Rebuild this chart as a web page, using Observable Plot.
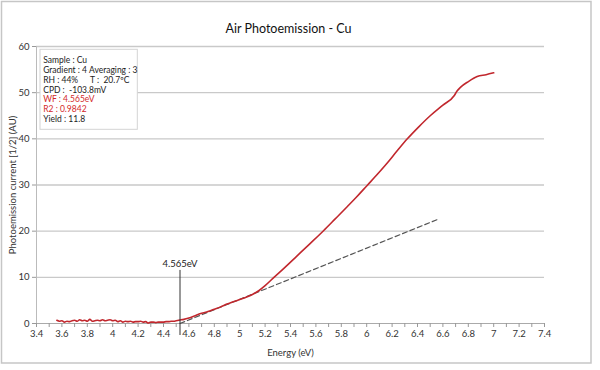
<!DOCTYPE html>
<html>
<head>
<meta charset="utf-8">
<script src="https://cdn.jsdelivr.net/npm/d3@7"></script>
<script src="https://cdn.jsdelivr.net/npm/@observablehq/plot@0.6"></script>
<style>
  html, body { margin: 0; padding: 0; background: #fff; }
  #chart { width: 600px; height: 370px; }
  #chart svg text { white-space: pre; }
</style>
</head>
<body>
<div id="chart"></div>
<script>
// ---- Data ----
const title = "Air Photoemission - Cu";
const xLabel = "Energy (eV)";
const yLabel = "Photoemission current [1/2] (AU)";

// Photoemission curve: energy (eV) and current
const energy = [
  3.56, 3.58, 3.60, 3.62, 3.64, 3.66, 3.68, 3.70, 3.72, 3.74,
  3.76, 3.78, 3.80, 3.82, 3.84, 3.86, 3.88, 3.90, 3.92, 3.94,
  3.96, 3.98, 4.00, 4.02, 4.04, 4.06, 4.08, 4.10, 4.12, 4.14,
  4.16, 4.18, 4.20, 4.22, 4.24, 4.26, 4.28, 4.30, 4.32, 4.34,
  4.36, 4.38, 4.40, 4.42, 4.44, 4.46, 4.48, 4.50, 4.52, 4.54,
  4.56, 4.60, 4.65, 4.70, 4.75, 4.80, 4.85, 4.90, 4.95, 5.00,
  5.05, 5.10, 5.15, 5.20, 5.27, 5.35, 5.45, 5.55, 5.66, 5.75,
  5.85, 5.92, 6.00, 6.10, 6.16, 6.24, 6.32, 6.41, 6.50, 6.60,
  6.69, 6.71, 6.74, 6.80, 6.87, 6.94, 7.00
];
const current = [
  0.7, 0.5, 0.6, 0.3, 0.5, 0.4, 0.6, 0.7, 0.5, 0.8,
  0.6, 0.7, 0.5, 0.9, 0.5, 0.6, 0.7, 0.6, 0.8, 0.6,
  0.7, 0.8, 0.6, 0.7, 0.4, 0.6, 0.3, 0.5, 0.4, 0.5,
  0.3, 0.4, 0.4, 0.5, 0.3, 0.4, 0.1, 0.3, 0.3, 0.2,
  0.3, 0.3, 0.3, 0.4, 0.4, 0.5, 0.5, 0.6, 0.7, 0.8,
  0.9, 1.2, 1.7, 2.2, 2.6, 3.1, 3.6, 4.2, 4.7, 5.2,
  5.7, 6.3, 7.1, 8.2, 10.0, 12.0, 14.6, 17.2, 20.1, 22.6,
  25.4, 27.4, 29.8, 32.8, 34.7, 37.4, 40.0, 42.6, 45.0, 47.3,
  49.4, 50.3, 51.2, 52.4, 53.5, 53.9, 54.3
];

// Linear fit (dashed) end points
const fitEnergy = [4.53, 6.565];
const fitCurrent = [0, 22.6];

// Work-function marker
const wfMarkerEnergy = 4.53;
const wfMarkerRange = [-2.6, 11.5];
const wfLabel = "4.565eV";
const wfLabelY = 13.0;

// Axis ticks
const xTicks = [3.4, 3.6, 3.8, 4, 4.2, 4.4, 4.6, 4.8, 5, 5.2, 5.4, 5.6, 5.8, 6, 6.2, 6.4, 6.6, 6.8, 7, 7.2, 7.4];
const xMinorTicks = [3.5, 3.7, 3.9, 4.1, 4.3, 4.5, 4.7, 4.9, 5.1, 5.3, 5.5, 5.7, 5.9, 6.1, 6.3, 6.5, 6.7, 6.9, 7.1, 7.3];
const yTicks = [0, 10, 20, 30, 40, 50, 60];
const yGrid = [10, 20, 30, 40, 50, 60];

// Info box text
const infoLeft = ["Sample : Cu", "Gradient : 4", "RH : 44%", "CPD :\u00a0\u00a0-103.8mV", "WF : 4.565eV", "R2 : 0.9842", "Yield : 11.8"];
const infoLeftRed = [false, false, false, false, true, true, false];
const infoRight = ["", "Averaging : 3", "T :\u00a0\u00a020.7ºC", "", "", "", ""];

// ---- Build ----
const curve = energy.map((e, i) => ({e, v: current[i]}));
const fit = fitEnergy.map((e, i) => ({e, v: fitCurrent[i]}));

const FONT = "Lato, 'Open Sans', sans-serif";
const GRID = "#c9c9c9";
const RED = "#c1272d";
const TXT = "#222";

const W = 600, H = 370;
const mL = 36, mR = 56, mT = 46, mB = 47;

function decoBorder(index, scales, values, dims) {
  const g = d3.create("svg:g");
  g.append("rect")
    .attr("x", 1.5).attr("y", 1.5)
    .attr("width", 591 - 1.5).attr("height", 363 - 1.5)
    .attr("fill", "none").attr("stroke", "#c6c6c6").attr("stroke-width", 1.5);
  return g.node();
}
function decoBox(index, scales, values, dims) {
  const g = d3.create("svg:g");
  g.append("rect")
    .attr("x", dims.marginLeft + 4).attr("y", dims.marginTop + 3.3)
    .attr("width", 97.3).attr("height", 80)
    .attr("fill", "#fff").attr("stroke", "#d4d4d4").attr("stroke-width", 1);
  return g.node();
}

const infoMarks = [];
infoLeft.forEach((t, i) => {
  infoMarks.push(Plot.text([t], {
    text: d => d, frameAnchor: "top-left", textAnchor: "start",
    dx: 6.7, dy: 10.7 + i * 9.8, fontSize: 8.5,
    fill: infoLeftRed[i] ? "#d42a2a" : TXT
  }));
  if (infoRight[i]) {
    infoMarks.push(Plot.text([infoRight[i]], {
      text: d => d, frameAnchor: "top-left", textAnchor: "start",
      dx: (i === 1 ? 52.5 : 53.5), dy: 10.7 + i * 9.8, fontSize: 8.5, fill: TXT
    }));
  }
});

const chart = Plot.plot({
  width: W, height: H,
  marginLeft: mL, marginRight: mR, marginTop: mT, marginBottom: mB,
  style: {fontFamily: FONT, background: "#fff", color: TXT, overflow: "visible"},
  x: {domain: [3.4, 7.4]},
  y: {domain: [0, 60]},
  marks: [
    decoBorder,
    Plot.gridY(yGrid, {stroke: GRID, strokeOpacity: 1, strokeWidth: 1.3}),
    Plot.ruleY([0], {stroke: "#aaa", strokeWidth: 1}),
    Plot.ruleX([3.4], {stroke: "#bbb", strokeWidth: 1}),
    Plot.axisX(xMinorTicks, {tickSize: 4, stroke: "#999", tickFormat: () => "", label: null}),
    Plot.axisX(xTicks, {tickSize: 4, stroke: "#999", tickPadding: 3, fontSize: 9.5, fill: "#333",
      tickFormat: d => String(d), label: xLabel, labelAnchor: "center", labelArrow: "none", labelOffset: 32}),
    Plot.axisY(yTicks, {tickSize: 4, stroke: "#999", tickPadding: 3, fontSize: 9.5, fill: "#333",
      label: yLabel, labelAnchor: "center", labelArrow: "none", labelOffset: 27}),
    decoBox,
    ...infoMarks,
    Plot.line(fit, {x: "e", y: "v", stroke: "#555", strokeWidth: 1.2, strokeDasharray: "5,3"}),
    Plot.line(curve, {x: "e", y: "v", stroke: RED, strokeWidth: 1.6, curve: "monotone-x"}),
    Plot.ruleX([wfMarkerEnergy], {y1: wfMarkerRange[0], y2: wfMarkerRange[1], stroke: "#333", strokeWidth: 1}),
    Plot.text([wfLabel], {x: wfMarkerEnergy, y: wfLabelY, text: d => d, fontSize: 9.5, fill: TXT}),
    Plot.text([title], {frameAnchor: "top", dx: -2, dy: -22, text: d => d, fontSize: 12.5, fill: "#111"})
  ]
});
document.getElementById("chart").append(chart);
</script>
</body>
</html>
